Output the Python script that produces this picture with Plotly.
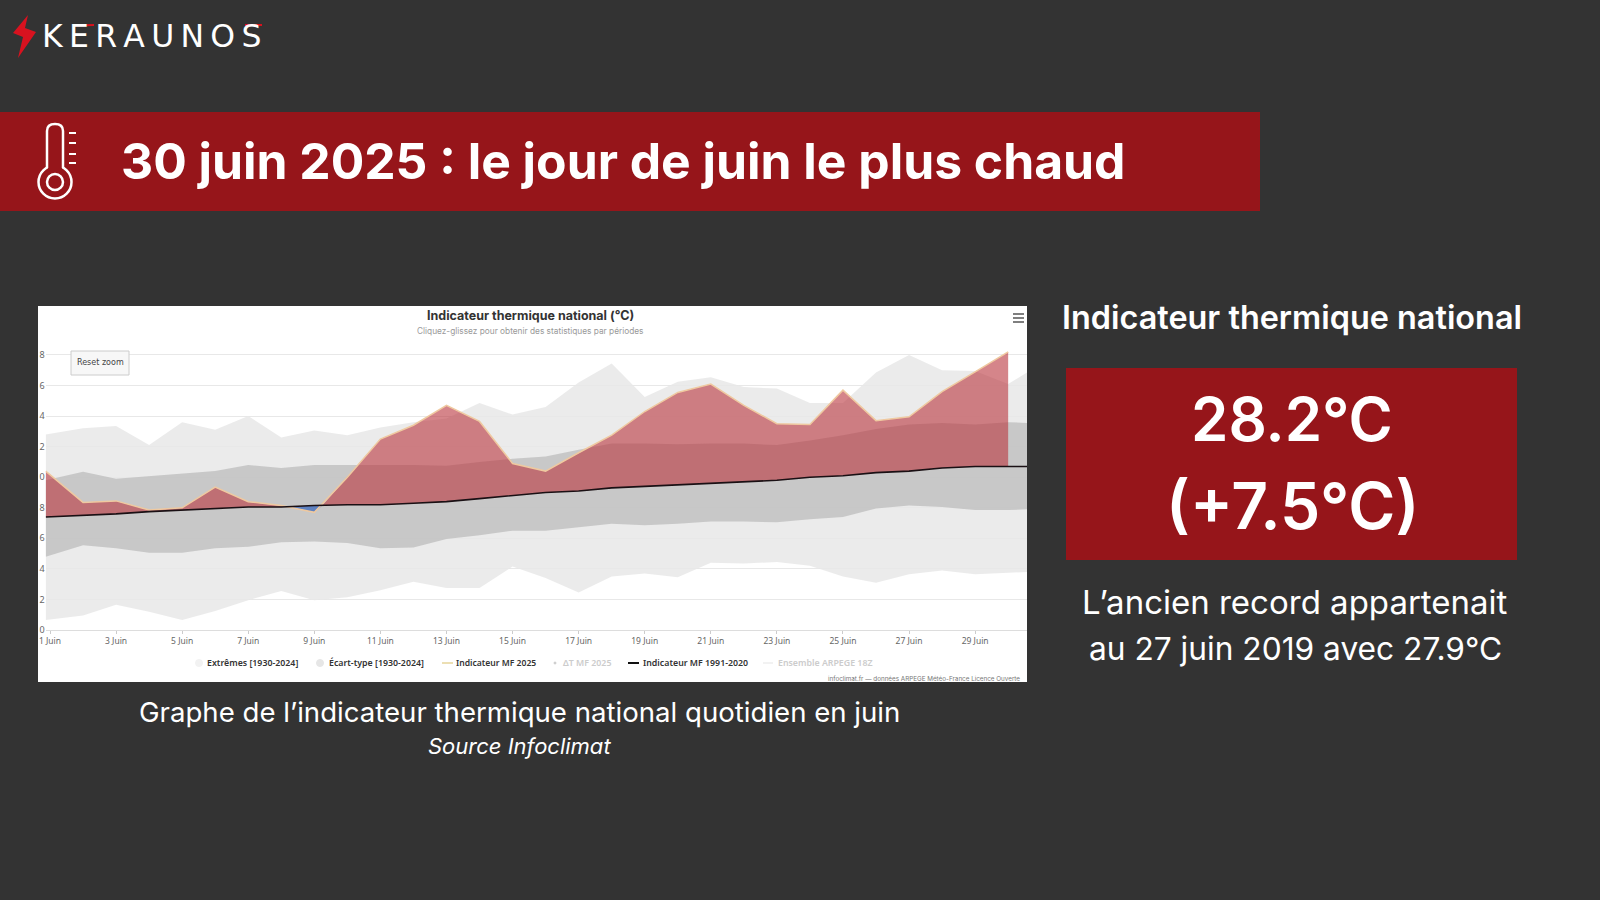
import plotly.graph_objects as go

# Colours of the slide
BG = "#333333"
DARK_RED = "#96151A"

# Daily values (day of June, deg C)
DAYS = [0.87, 2, 3, 4, 5, 6, 7, 8, 9, 10, 11, 12, 13, 14, 15, 16, 17, 18, 19, 20,
        21, 22, 23, 24, 25, 26, 27, 28, 29, 30, 30.57]
EXT_MAX = [22.8, 23.2, 23.35, 22.1, 23.6, 23.1, 24.0, 22.6, 23.05, 22.75, 23.25, 23.6, 23.85,
           24.85, 24.1, 24.6, 26.2, 27.45, 25.25, 26.25, 26.55, 25.9, 25.8, 24.85, 24.85,
           26.85, 28.0, 27.0, 26.95, 26.1, 26.85]
EXT_MIN = [10.65, 10.95, 11.65, 11.2, 10.65, 11.25, 11.95, 12.55, 11.95, 12.15, 12.6, 13.15,
           12.75, 12.75, 14.15, 13.4, 12.45, 13.5, 13.7, 13.45, 14.4, 14.35, 14.45, 14.2,
           13.5, 13.1, 13.65, 13.9, 13.65, 13.75, 13.8]
STD_HIGH = [19.8, 20.35, 19.9, 20.05, 20.2, 20.4, 20.8, 20.6, 20.8, 20.8, 20.8, 20.8, 20.75,
            21.0, 21.2, 21.35, 21.8, 22.2, 22.2, 22.15, 22.2, 22.2, 22.1, 22.4, 22.75,
            23.15, 23.45, 23.55, 23.45, 23.6, 23.55]
STD_LOW = [14.8, 15.55, 15.35, 15.05, 15.05, 15.35, 15.45, 15.75, 15.8, 15.7, 15.35, 15.4,
           15.95, 16.2, 16.5, 16.5, 16.75, 16.95, 16.85, 16.95, 17.1, 17.1, 17.05, 17.25,
           17.4, 17.95, 18.15, 18.05, 17.85, 17.85, 17.9]
NORMAL = [17.4, 17.5, 17.6, 17.75, 17.85, 17.95, 18.05, 18.05, 18.15, 18.2, 18.2, 18.3, 18.4,
          18.6, 18.8, 19.0, 19.1, 19.3, 19.4, 19.5, 19.6, 19.7, 19.8, 20.0, 20.1, 20.3,
          20.4, 20.6, 20.7, 20.7, 20.7]
IND_2025 = [20.4, 18.35, 18.45, 17.85, 18.0, 19.35, 18.4, 18.15, 17.7, 20.0, 22.5, 23.4, 24.7,
            23.65, 20.9, 20.4, 21.6, 22.75, 24.3, 25.55, 26.1, 24.7, 23.5, 23.45, 25.7, 23.7,
            23.95, 25.6, 26.9, 28.2]

# Same series with the two points where the 2025 curve crosses the normal
ANOM_DAYS = [0.87, 2, 3, 4, 5, 6, 7, 8, 8.2, 9, 9.25, 10, 11, 12, 13, 14, 15, 16, 17, 18, 19,
             20, 21, 22, 23, 24, 25, 26, 27, 28, 29, 30]
ANOM_TOP = [20.4, 18.35, 18.45, 17.85, 18.0, 19.35, 18.4, 18.15, 18.07, 17.7, 18.16, 20.0, 22.5,
            23.4, 24.7, 23.65, 20.9, 20.4, 21.6, 22.75, 24.3, 25.55, 26.1, 24.7, 23.5, 23.45,
            25.7, 23.7, 23.95, 25.6, 26.9, 28.2]
ANOM_BASE = [17.4, 17.5, 17.6, 17.75, 17.85, 17.95, 18.05, 18.05, 18.07, 18.15, 18.16, 18.2, 18.2,
             18.3, 18.4, 18.6, 18.8, 19.0, 19.1, 19.3, 19.4, 19.5, 19.6, 19.7, 19.8, 20.0,
             20.1, 20.3, 20.4, 20.6, 20.7, 20.7]

X_TICKS = list(range(1, 30, 2))
X_LABELS = [f"{d} Juin" for d in X_TICKS]
Y_TICKS = [10, 12, 14, 16, 18, 20, 22, 24, 26, 28]
Y_LABELS = ["0", "2", "4", "6", "8", "0", "2", "4", "6", "8"]


def px(x):
    return x / 1600


def py(y):
    return 1 - y / 900


def band(days, high, low, color):
    return go.Scatter(x=days + days[::-1], y=high + low[::-1], fill="toself", fillcolor=color,
                      mode="lines", line=dict(width=0), showlegend=False, hoverinfo="skip")


def rect(x0, y0, x1, y1, fill, line=None, layer="below"):
    return dict(type="rect", xref="paper", yref="paper", x0=px(x0), y0=py(y0), x1=px(x1), y1=py(y1),
                fillcolor=fill, line=dict(width=1 if line else 0, color=line), layer=layer)


def seg(x0, y0, x1, y1, color="white", width=2):
    return dict(type="line", xref="paper", yref="paper", x0=px(x0), y0=py(y0), x1=px(x1), y1=py(y1),
                line=dict(color=color, width=width), layer="above")


def poly(points, fill):
    path = "M " + " L ".join(f"{px(x):.5f},{py(y):.5f}" for x, y in points) + " Z"
    return dict(type="path", xref="paper", yref="paper", path=path, fillcolor=fill,
                line=dict(width=0), layer="above")


def circle(cx, cy, r, fill="rgba(0,0,0,0)", color="white", width=2.5):
    return dict(type="circle", xref="paper", yref="paper", x0=px(cx - r), x1=px(cx + r),
                y0=py(cy - r), y1=py(cy + r), fillcolor=fill, line=dict(color=color, width=width),
                layer="above")


def label(x, y, text, size, color="white", font="Inter", weight=400, anchor="center", italic=False):
    return dict(xref="paper", yref="paper", x=px(x), y=py(y), text=text, showarrow=False,
                xanchor=anchor, yanchor="middle",
                font=dict(family=font, size=size, color=color, weight=weight,
                          style="italic" if italic else "normal"))


fig = go.Figure()
fig.add_trace(band(DAYS, EXT_MAX, EXT_MIN, "rgba(232,232,232,0.85)"))
fig.add_trace(band(DAYS, STD_HIGH, STD_LOW, "rgba(190,190,190,0.78)"))
fig.add_trace(band(ANOM_DAYS[:9], ANOM_TOP[:9], ANOM_BASE[:9], "rgba(185,52,60,0.6)"))
fig.add_trace(band(ANOM_DAYS[8:11], ANOM_BASE[8:11], ANOM_TOP[8:11], "rgba(50,100,190,0.7)"))
fig.add_trace(band(ANOM_DAYS[10:], ANOM_TOP[10:], ANOM_BASE[10:], "rgba(185,52,60,0.6)"))
fig.add_trace(go.Scatter(x=DAYS[:30], y=IND_2025, mode="lines", name="Indicateur MF 2025",
                         line=dict(color="#EFC9A0", width=1.5), showlegend=False))
fig.add_trace(go.Scatter(x=DAYS, y=NORMAL, mode="lines", name="Indicateur MF 1991-2020",
                         line=dict(color="#1a1014", width=1.6), showlegend=False))

shapes = [
    rect(0, 112, 1260, 211, DARK_RED),
    rect(1066, 368, 1517, 560, DARK_RED),
    rect(38, 306, 1027, 682, "white"),
    # reset zoom button
    rect(71, 351, 129, 375, "#f7f7f7", "#cccccc", "above"),
    # menu icon
    seg(1013, 314, 1024, 314, "#555555", 1.5),
    seg(1013, 318, 1024, 318, "#555555", 1.5),
    seg(1013, 322, 1024, 322, "#555555", 1.5),
    # legend symbols
    circle(199, 663, 3.5, "#f2f2f2", "#f2f2f2", 1),
    circle(320, 663, 3.5, "#e6e6e6", "#e6e6e6", 1),
    seg(442, 663, 453, 663, "#E6D49A", 1.5),
    circle(555, 663, 1, "#cccccc", "#cccccc", 1),
    seg(628, 663, 639, 663, "#111111", 2),
    seg(763, 663, 773, 663, "#eeeeee", 1.5),
    # logo bolt and the red strokes of the wordmark
    poly([(28, 15), (13, 33), (23, 37), (18, 58), (36, 32), (25, 28)], "#D8121F"),
    seg(74, 25.5, 94, 25, "#D8121F", 2),
    seg(245, 25, 262, 25, "#D8121F", 2),
    # thermometer
    circle(55, 182, 16.5),
    circle(55, 182, 8),
    rect(48, 163, 62, 169, DARK_RED, None, "above"),
    dict(type="path", xref="paper", yref="paper",
         path=f"M {px(47)},{py(168)} L {px(47)},{py(131)} Q {px(47)},{py(124)} {px(55)},{py(124)} "
              f"Q {px(63)},{py(124)} {px(63)},{py(131)} L {px(63)},{py(168)}",
         line=dict(color="white", width=2.5), layer="above"),
    seg(69, 133, 76, 133), seg(69, 143, 76, 143), seg(69, 154, 76, 154), seg(69, 163, 76, 163),
]

annotations = [
    label(40, 36, "K\u2009E\u2009R\u2009A\u2009U\u2009N\u2009O\u2009S", 31.5, font="DejaVu Sans", anchor="left"),
    label(119, 161, "30 juin 2025 : le jour de juin le plus chaud", 49.8, weight=700, anchor="left"),
    label(530, 315, "Indicateur thermique national (°C)", 12.5, "#333333", weight=700),
    label(530, 331, "Cliquez-glissez pour obtenir des statistiques par périodes", 8.3, "#999999"),
    label(100, 362, "Reset zoom", 8, "#444444", "DejaVu Sans"),
    label(205, 663, "Extrêmes [1930-2024]", 8.8, "#333333", "Noto Sans", 600, "left"),
    label(327, 663, "Écart-type [1930-2024]", 8.8, "#333333", "Noto Sans", 600, "left"),
    label(454, 663, "Indicateur MF 2025", 8.6, "#333333", "Noto Sans", 600, "left"),
    label(561, 663, "ΔT MF 2025", 8.8, "#cccccc", "Noto Sans", 600, "left"),
    label(641, 663, "Indicateur MF 1991-2020", 8.8, "#333333", "Noto Sans", 600, "left"),
    label(776, 663, "Ensemble ARPEGE 18Z", 8.8, "#cccccc", "Noto Sans", 600, "left"),
    label(1022, 679, "infoclimat.fr — données ARPEGE Météo-France Licence Ouverte", 6.3, "#777777", anchor="right"),
    label(519, 712, "Graphe de l’indicateur thermique national quotidien en juin", 27.6),
    label(519, 746, "Source Infoclimat", 22, italic=True),
    label(1292, 317, "Indicateur thermique national", 32.4, weight=600),
    label(1292, 419, "28.2°C", 60, weight=600),
    label(1292, 506, "(+7.5°C)", 64, weight=600),
    label(1295, 602, "L’ancien record appartenait", 33),
    label(1295, 648, "au 27 juin 2019 avec 27.9°C", 31.7),
]

fig.update_layout(
    width=1600, height=900, margin=dict(l=0, r=0, t=0, b=0),
    paper_bgcolor=BG, plot_bgcolor="rgba(0,0,0,0)",
    shapes=shapes, annotations=annotations, showlegend=False,
    xaxis=dict(domain=[px(45.7), px(1027)], range=[0.87, 30.57], tickmode="array", automargin=False,
               tickvals=X_TICKS, ticktext=X_LABELS, showgrid=False, ticks="outside", ticklen=3,
               tickcolor="#cccccc", linecolor="#dddddd", showline=True, zeroline=False,
               tickfont=dict(family="Noto Sans", size=8.5, color="#666666")),
    yaxis=dict(domain=[py(630), py(340)], range=[10, 28.98], tickmode="array", automargin=False,
               tickvals=Y_TICKS, ticktext=Y_LABELS, gridcolor="#e8e8e8", zeroline=False,
               tickfont=dict(family="Noto Sans", size=9, color="#666666")),
)

fig.write_html("out.html", config=dict(displayModeBar=False),
               post_script="document.body.style.margin='0';document.body.style.background='#333333';")
